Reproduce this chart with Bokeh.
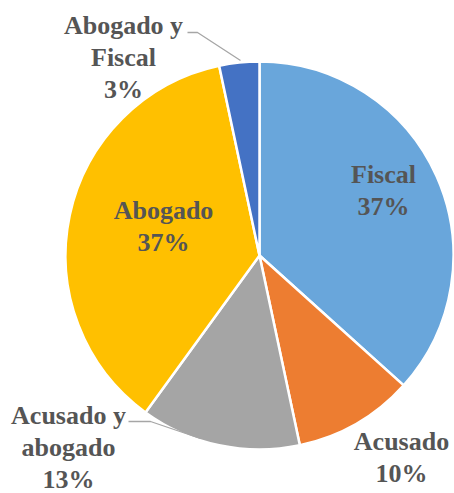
import numpy as np
from bokeh.plotting import figure
from bokeh.models import Range1d, ColumnDataSource
from bokeh.core.properties import value
from bokeh.embed import file_html
from bokeh.resources import INLINE

# ---- data ----
categories = ["Fiscal", "Acusado", "Acusado y abogado", "Abogado", "Abogado y Fiscal"]
counts = [11, 3, 4, 11, 1]
label_texts = ["Fiscal\n37%", "Acusado\n10%", "Acusado y\nabogado\n13%", "Abogado\n37%", "Abogado y\nFiscal\n3%"]
colors = ["#69A6DB", "#ED7D31", "#A5A5A5", "#FFC000", "#4472C4"]

# ---- layout (picture pixel coords, converted below) ----
W, H = 454, 493
def Y(yp):
    return H - yp

cx, cy, R = 259, Y(255), 194
label_pos = [(383, 190), (401, 457), (68, 447), (163, 226), (123, 57)]
leaders = [
    ([187, 197, 240], [32, 32, 60]),
    ([128, 150, 200], [421, 421, 438]),
]

vals = np.array(counts, dtype=float)
frac = vals / vals.sum()
cum = np.concatenate([[0], np.cumsum(frac)])
start = np.pi / 2 - cum[:-1] * 2 * np.pi
end = np.pi / 2 - cum[1:] * 2 * np.pi

p = figure(width=W, height=H, output_backend="svg", toolbar_location=None,
           x_range=Range1d(0, W), y_range=Range1d(0, H), min_border=0)
p.axis.visible = False
p.grid.visible = False
p.outline_line_color = None
p.background_fill_color = "white"

src = ColumnDataSource(dict(start=start, end=end, color=colors, cat=categories))
p.wedge(x=cx, y=cy, radius=R, start_angle="start", end_angle="end", direction="clock",
        fill_color="color", line_color="white", line_width=2.5, source=src)

for xs, ys in leaders:
    p.line(xs, [Y(v) for v in ys], line_color="#A6A6A6", line_width=1.3)

lsrc = ColumnDataSource(dict(x=[lp[0] for lp in label_pos], y=[Y(lp[1]) for lp in label_pos], t=label_texts))
p.text(x="x", y="y", text="t", source=lsrc, text_align="center", text_baseline="middle",
       text_font=value("Liberation Serif"), text_font_style="bold", text_font_size="26px",
       text_color="#555555", text_line_height=1.12)

open("out.html", "w").write(file_html(p, INLINE))
